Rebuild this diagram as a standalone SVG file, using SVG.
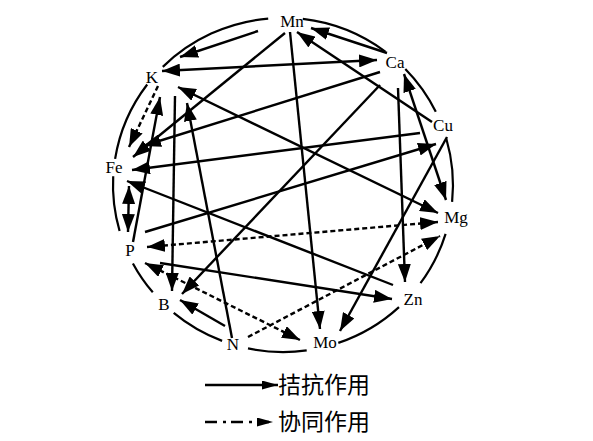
<svg xmlns="http://www.w3.org/2000/svg" width="593" height="441" viewBox="0 0 593 441">
<style>
.lbl{font-family:"Liberation Serif","Times New Roman",serif;font-size:17px;fill:#000;text-anchor:middle}
.arc{fill:none;stroke:#000;stroke-width:2.2}
.s{fill:none;stroke:#000;stroke-width:2.4;marker-end:url(#ah)}
.sd{fill:none;stroke:#000;stroke-width:2.4;marker-end:url(#ah);marker-start:url(#ah)}
.d{fill:none;stroke:#000;stroke-width:2.4;stroke-dasharray:5 3;marker-end:url(#ah)}
.dd{fill:none;stroke:#000;stroke-width:2.4;stroke-dasharray:5 3;marker-end:url(#ah);marker-start:url(#ah)}
.leg{font-family:"Noto Sans CJK SC","Noto Sans CJK JP",sans-serif;font-size:23px;fill:#000}
</style>
<defs>
<marker id="ah" markerUnits="userSpaceOnUse" markerWidth="18" markerHeight="13" refX="18" refY="6.5" orient="auto-start-reverse">
<path d="M0,0 L18,6.5 L0,13 z" fill="#000"/>
</marker>
<marker id="ahs" markerUnits="userSpaceOnUse" markerWidth="16" markerHeight="9" refX="16" refY="4.5" orient="auto">
<path d="M0,0 L16,4.5 L0,9 z" fill="#000"/>
</marker>
</defs>
<rect width="593" height="441" fill="#fff"/>
<g id="ring">
<path class="arc" d="M162.8,66.9 A170,167 0 0 1 268.2,18.6"/>
<path class="arc" d="M302.8,18.9 A170,167 0 0 1 385.3,51.6"/>
<path class="arc" d="M405.3,69.0 A170,167 0 0 1 435.8,111.8"/>
<path class="arc" d="M446.4,139 A170,167 0 0 1 452.1,201.9"/>
<path class="arc" d="M445.6,233.8 A170,167 0 0 1 420.5,283.2"/>
<path class="arc" d="M399,307.1 A170,167 0 0 1 338.3,342.9"/>
<path class="arc" d="M306.7,350.4 A170,167 0 0 1 248,348.4"/>
<path class="arc" d="M222.1,340.9 A170,167 0 0 1 173.7,312.9"/>
<path class="arc" d="M152.8,292.3 A170,167 0 0 1 132.9,263.4"/>
<path class="arc" d="M119.6,231.0 A170,167 0 0 1 113.2,176.3"/>
<path class="arc" d="M115.1,158.9 A170,167 0 0 1 147.2,84.5"/>
</g>
<g id="connectors">
<line class="s" x1="258" y1="31" x2="180" y2="57"/>
<line class="sd" x1="162" y1="71" x2="377" y2="60"/>
<line class="s" x1="285" y1="33" x2="133" y2="157"/>
<line class="s" x1="380" y1="72" x2="143" y2="146"/>
<line class="s" x1="420" y1="133" x2="132" y2="170"/>
<line class="s" x1="393" y1="285" x2="127" y2="181"/>
<line class="sd" x1="129" y1="186" x2="128" y2="232"/>
<line class="s" x1="133" y1="242" x2="160" y2="97"/>
<line class="s" x1="175" y1="96" x2="172" y2="291"/>
<line class="s" x1="232" y1="338" x2="187" y2="103"/>
<line class="sd" x1="178" y1="87" x2="438" y2="213"/>
<line class="s" x1="432" y1="122" x2="297" y2="32"/>
<line class="s" x1="387" y1="53" x2="311" y2="28"/>
<line class="s" x1="290" y1="32" x2="320" y2="329"/>
<line class="s" x1="380" y1="85" x2="182" y2="294"/>
<line class="s" x1="225" y1="326" x2="180" y2="300"/>
<line class="s" x1="447" y1="137" x2="340" y2="331"/>
<line class="s" x1="398" y1="88" x2="405" y2="282"/>
<line class="sd" x1="404" y1="74" x2="446" y2="200"/>
<line class="s" x1="145" y1="232" x2="436" y2="144"/>
<line class="s" x1="160" y1="263" x2="392" y2="299"/>
<line class="d" x1="158" y1="86" x2="129" y2="147"/>
<line class="dd" x1="147" y1="247" x2="438" y2="222"/>
<line class="d" x1="248" y1="337" x2="440" y2="236"/>
<line class="dd" x1="145" y1="263" x2="300" y2="340"/>
</g>
<g id="node-Mn"><text class="lbl" x="292" y="27">Mn</text></g>
<g id="node-Ca"><text class="lbl" x="395" y="68">Ca</text></g>
<g id="node-Cu"><text class="lbl" x="443" y="131">Cu</text></g>
<g id="node-Mg"><text class="lbl" x="456" y="223">Mg</text></g>
<g id="node-Zn"><text class="lbl" x="413" y="305">Zn</text></g>
<g id="node-Mo"><text class="lbl" x="325" y="348">Mo</text></g>
<g id="node-N"><text class="lbl" x="233" y="350">N</text></g>
<g id="node-B"><text class="lbl" x="164" y="310">B</text></g>
<g id="node-P"><text class="lbl" x="130" y="256">P</text></g>
<g id="node-Fe"><text class="lbl" x="114" y="173">Fe</text></g>
<g id="node-K"><text class="lbl" x="152" y="83">K</text></g>
<g id="legend">
<line x1="205" y1="385" x2="278" y2="385" stroke="#000" stroke-width="2.4" marker-end="url(#ahs)"/>
<text class="leg" x="278" y="393">拮抗作用</text>
<line x1="205" y1="422" x2="273" y2="422" stroke="#000" stroke-width="2.4" stroke-dasharray="12 6 3 5" marker-end="url(#ahs)"/>
<text class="leg" x="278" y="430">协同作用</text>
</g>
</svg>
